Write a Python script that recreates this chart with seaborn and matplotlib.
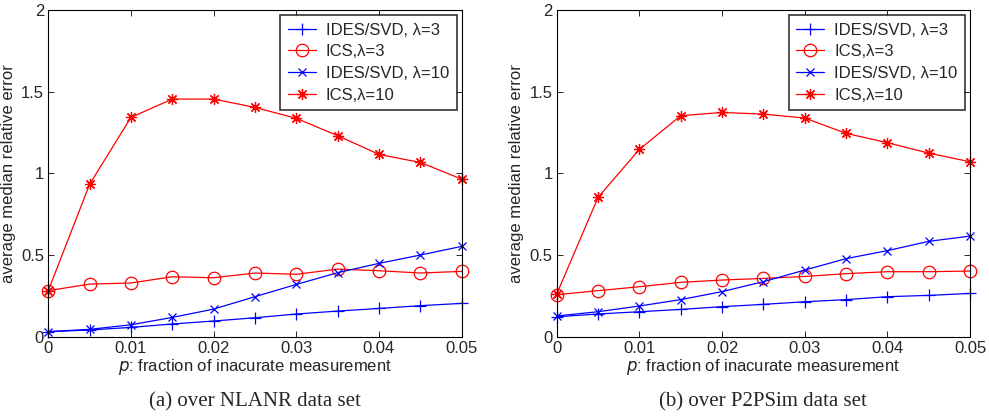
import numpy as np
import pandas as pd
import matplotlib
matplotlib.use("Agg")
import matplotlib.pyplot as plt
import seaborn as sns

p = [0, 0.005, 0.01, 0.015, 0.02, 0.025, 0.03, 0.035, 0.04, 0.045, 0.05]
series_names = ["IDES/SVD, λ=3", "ICS,λ=3", "IDES/SVD, λ=10", "ICS,λ=10"]

# (a) NLANR
nlanr_ides3 = [0.031, 0.041, 0.057, 0.078, 0.096, 0.116, 0.139, 0.157, 0.173, 0.190, 0.204]
nlanr_ics3 = [0.282, 0.322, 0.329, 0.367, 0.361, 0.390, 0.382, 0.414, 0.404, 0.390, 0.400]
nlanr_ides10 = [0.031, 0.045, 0.073, 0.118, 0.169, 0.245, 0.320, 0.392, 0.449, 0.500, 0.553]
nlanr_ics10 = [0.282, 0.933, 1.343, 1.455, 1.455, 1.404, 1.337, 1.231, 1.116, 1.067, 0.965]

# (b) P2PSim
p2p_ides3 = [0.122, 0.139, 0.153, 0.167, 0.184, 0.198, 0.214, 0.227, 0.245, 0.253, 0.265]
p2p_ics3 = [0.257, 0.282, 0.306, 0.333, 0.347, 0.357, 0.369, 0.386, 0.398, 0.398, 0.402]
p2p_ides10 = [0.127, 0.153, 0.188, 0.227, 0.276, 0.337, 0.408, 0.478, 0.527, 0.584, 0.616]
p2p_ics10 = [0.261, 0.853, 1.147, 1.353, 1.373, 1.363, 1.339, 1.245, 1.188, 1.124, 1.071]

captions = ["(a) over NLANR data set", "(b) over P2PSim data set"]

sns.set_style("ticks")
plt.rcParams["font.family"] = ["Liberation Sans", "DejaVu Sans"]
plt.rcParams["xtick.direction"] = "in"
plt.rcParams["ytick.direction"] = "in"

colors = ["#0000ff", "#ff0000", "#0000ff", "#ff0000"]
markers = ["+", "o", "x", (8, 2, 0)]
msizes = [8, 9, 6, 8]

fig = plt.figure(figsize=(9.89, 4.19), dpi=100)
panels = [
    ([nlanr_ides3, nlanr_ics3, nlanr_ides10, nlanr_ics10], [0.0488, 0.1964, 0.418, 0.7796]),
    ([p2p_ides3, p2p_ics3, p2p_ides10, p2p_ics10], [0.5629, 0.1964, 0.418, 0.7796]),
]

for k, (data, rect) in enumerate(panels):
    ax = fig.add_axes(rect)
    for name, vals, c, m, ms in zip(series_names, data, colors, markers, msizes):
        df = pd.DataFrame({"p": p, "err": vals})
        sns.lineplot(data=df, x="p", y="err", ax=ax, color=c, marker=m,
                     markersize=ms, markerfacecolor="none", markeredgecolor=c,
                     markeredgewidth=0.9, linewidth=0.9, label=name, clip_on=False)
    ax.set_xlim(0, 0.05)
    ax.set_ylim(0, 2)
    ax.set_xticks([0, 0.01, 0.02, 0.03, 0.04, 0.05])
    ax.set_xticklabels(["0", "0.01", "0.02", "0.03", "0.04", "0.05"])
    ax.set_yticks([0, 0.5, 1, 1.5, 2])
    ax.set_yticklabels(["0", "0.5", "1", "1.5", "2"])
    ax.tick_params(labelsize=12, length=4, width=0.7, top=True, right=True, pad=3)
    for s in ax.spines.values():
        s.set_linewidth(0.8)
        s.set_color("black")
    ax.set_xlabel(r"$p$: fraction of inacurate measurement", fontsize=12, labelpad=1)
    ax.set_ylabel("average median relative error", fontsize=12, labelpad=4)
    leg = ax.legend(loc="upper right", fontsize=12, frameon=True, fancybox=False,
                    handlelength=1.7, borderpad=0.45, labelspacing=0.4,
                    handletextpad=0.6, borderaxespad=0.3)
    leg.get_frame().set_edgecolor("black")
    leg.get_frame().set_linewidth(1.2)
    ax.text(0.5, -0.198, captions[k], transform=ax.transAxes, ha="center", va="center",
            fontsize=15, family=["Liberation Serif", "DejaVu Serif"])

fig.savefig("out.png", dpi=100)
